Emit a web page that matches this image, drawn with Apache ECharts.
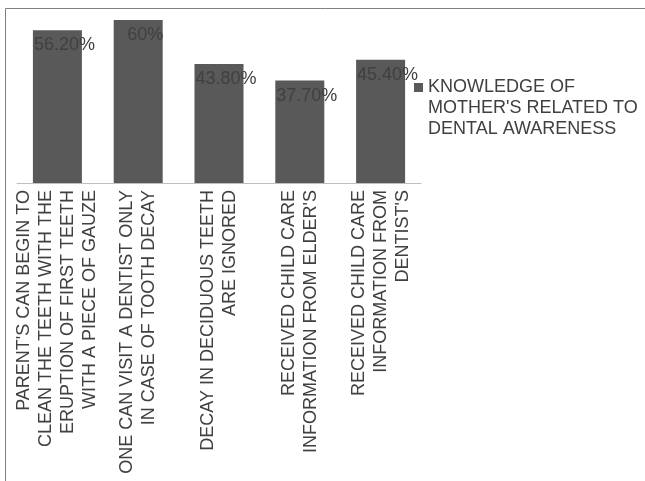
<!DOCTYPE html>
<html><head><meta charset="utf-8">
<script src="https://cdn.jsdelivr.net/npm/echarts@6/dist/echarts.min.js"></script>
<style>html,body{margin:0;padding:0;background:#fff}#c{width:645px;height:481px}</style>
</head><body><div id="c"></div>
<script>
var categories = [
  "PARENT'S CAN BEGIN TO\nCLEAN THE TEETH WITH THE\nERUPTION OF FIRST TEETH\nWITH A PIECE OF GAUZE",
  "ONE CAN VISIT A DENTIST ONLY\nIN CASE OF TOOTH DECAY",
  "DECAY IN DECIDUOUS TEETH\nARE IGNORED",
  "RECEIVED CHILD CARE\nINFORMATION FROM ELDER'S",
  "RECEIVED CHILD CARE\nINFORMATION FROM\nDENTIST'S"
];
var values = [56.2, 60, 43.8, 37.7, 45.4];
var valueLabels = ["56.20%", "60%", "43.80%", "37.70%", "45.40%"];
var seriesName = "KNOWLEDGE OF\nMOTHER'S RELATED TO\nDENTAL AWARENESS";

var chart = echarts.init(document.getElementById('c'));
var font = "'Liberation Sans', Arial, sans-serif";
chart.setOption({
  animation: false,
  textStyle: {fontFamily: font},
  grid: {left: 17, right: 224, top: 20, bottom: 298, containLabel: false},
  legend: {
    left: 414, top: 35, padding: 0,
    itemWidth: 9, itemHeight: 9, icon: 'rect',
    formatter: function(n){ return '\n\n' + n; },
    textStyle: {fontFamily: font, fontSize: 18, color: '#404040', lineHeight: 21},
    data: [seriesName]
  },
  xAxis: {
    type: 'category', data: categories,
    axisLine: {show: true, lineStyle: {color: '#bfbfbf', width: 1}},
    axisTick: {show: false},
    axisLabel: {interval: 0, rotate: 90, margin: 7, fontSize: 18, lineHeight: 22,
      color: '#404040', fontFamily: font}
  },
  yAxis: {type: 'value', min: 0, max: 60, show: false, splitLine: {show: false}},
  series: [{
    name: seriesName, type: 'bar', data: values, barWidth: 49,
    itemStyle: {color: '#595959'},
    label: {show: true, position: 'insideTop', offset: [7, 1], distance: 5,
      fontSize: 18, color: '#404040', fontFamily: font,
      formatter: function(p){ return valueLabels[p.dataIndex]; }}
  }],
  graphic: [{
    type: 'polyline', silent: true,
    shape: {points: [[5.5, 481], [5.5, 8.5], [645, 8.5]]},
    style: {stroke: '#808080', lineWidth: 1, fill: null}
  }]
});
</script></body></html>
